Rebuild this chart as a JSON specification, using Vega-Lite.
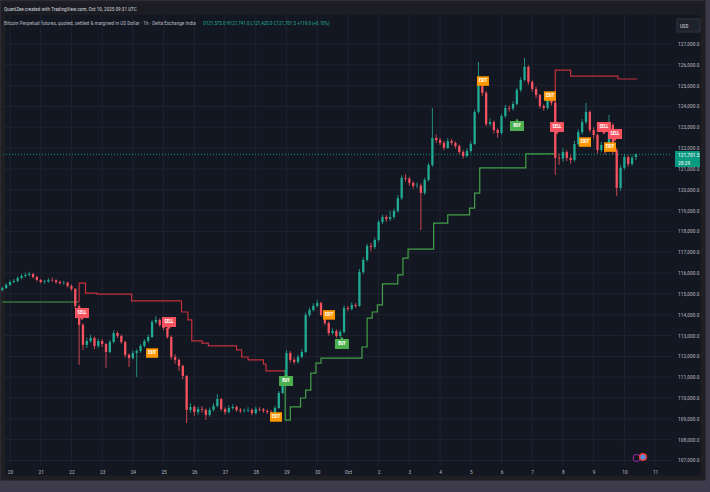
{
"$schema":"https://vega.github.io/schema/vega-lite/v6.json",
"width":700,"height":475,
"autosize":{"type":"none"},
"padding":{"left":3,"top":3,"right":7,"bottom":14},
"background":"#3c3a4b",
"config":{"view":{"fill":"#131722","stroke":"#1f1f23","strokeWidth":5},"font":"Liberation Sans Narrow, Roboto Condensed, Liberation Sans, sans-serif"},
"title":{"text":"QuantZee created with TradingView.com, Oct 10, 2025 09:31 UTC","subtitle":"\u00a0\u00a0\u00a0Bitcoin Perpetual futures, quoted, settled & margined in US Dollar · 1h · Delta Exchange India","anchor":"start","frame":"group","offset":-23,"dx":1,"fontSize":5.2,"fontWeight":"normal","color":"#d1d4dc","subtitleFontSize":5.3,"subtitleColor":"#b2b5be","subtitlePadding":8.5},
"datasets":{
"candles":[
{"t":"2025-09-19 18:00","o":115190,"h":115360,"l":115120,"c":115280},
{"t":"2025-09-19 21:00","o":115280,"h":115520,"l":115230,"c":115430},
{"t":"2025-09-20 00:00","o":115430,"h":115650,"l":115380,"c":115570},
{"t":"2025-09-20 03:00","o":115570,"h":115720,"l":115500,"c":115620},
{"t":"2025-09-20 06:00","o":115620,"h":115850,"l":115560,"c":115760},
{"t":"2025-09-20 09:00","o":115760,"h":115950,"l":115700,"c":115860},
{"t":"2025-09-20 12:00","o":115860,"h":116020,"l":115780,"c":115910},
{"t":"2025-09-20 15:00","o":115910,"h":116060,"l":115840,"c":115960},
{"t":"2025-09-20 18:00","o":115960,"h":116000,"l":115740,"c":115810},
{"t":"2025-09-20 21:00","o":115810,"h":115870,"l":115600,"c":115670},
{"t":"2025-09-21 00:00","o":115670,"h":115720,"l":115500,"c":115570},
{"t":"2025-09-21 03:00","o":115570,"h":115680,"l":115490,"c":115600},
{"t":"2025-09-21 06:00","o":115600,"h":115760,"l":115540,"c":115670},
{"t":"2025-09-21 09:00","o":115670,"h":115780,"l":115580,"c":115650},
{"t":"2025-09-21 12:00","o":115650,"h":115700,"l":115480,"c":115570},
{"t":"2025-09-21 15:00","o":115570,"h":115640,"l":115440,"c":115520},
{"t":"2025-09-21 18:00","o":115520,"h":115620,"l":115430,"c":115540},
{"t":"2025-09-21 21:00","o":115540,"h":115590,"l":115300,"c":115380},
{"t":"2025-09-22 00:00","o":115380,"h":115450,"l":115150,"c":115240},
{"t":"2025-09-22 03:00","o":115240,"h":115280,"l":114300,"c":114420},
{"t":"2025-09-22 06:00","o":114420,"h":114500,"l":111590,"c":113510},
{"t":"2025-09-22 09:00","o":113510,"h":113600,"l":112300,"c":112550},
{"t":"2025-09-22 12:00","o":112550,"h":112900,"l":112400,"c":112740},
{"t":"2025-09-22 15:00","o":112740,"h":113050,"l":112650,"c":112880},
{"t":"2025-09-22 18:00","o":112880,"h":112950,"l":112350,"c":112500},
{"t":"2025-09-22 21:00","o":112500,"h":112850,"l":112400,"c":112740},
{"t":"2025-09-23 00:00","o":112740,"h":112820,"l":112450,"c":112590},
{"t":"2025-09-23 03:00","o":112590,"h":112650,"l":111440,"c":112210},
{"t":"2025-09-23 06:00","o":112210,"h":112780,"l":112150,"c":112690},
{"t":"2025-09-23 09:00","o":112690,"h":113250,"l":112620,"c":113120},
{"t":"2025-09-23 12:00","o":113120,"h":113200,"l":112880,"c":112980},
{"t":"2025-09-23 15:00","o":112980,"h":113050,"l":112600,"c":112690},
{"t":"2025-09-23 18:00","o":112690,"h":112750,"l":111950,"c":112070},
{"t":"2025-09-23 21:00","o":112070,"h":112150,"l":111490,"c":111920},
{"t":"2025-09-24 00:00","o":111920,"h":112280,"l":111850,"c":112160},
{"t":"2025-09-24 03:00","o":112160,"h":112350,"l":111010,"c":112260},
{"t":"2025-09-24 06:00","o":112260,"h":112600,"l":112180,"c":112500},
{"t":"2025-09-24 09:00","o":112500,"h":112830,"l":112420,"c":112740},
{"t":"2025-09-24 12:00","o":112740,"h":113050,"l":112650,"c":112930},
{"t":"2025-09-24 15:00","o":112930,"h":113750,"l":112880,"c":113650},
{"t":"2025-09-24 18:00","o":113650,"h":113940,"l":113560,"c":113750},
{"t":"2025-09-24 21:00","o":113750,"h":113820,"l":113420,"c":113510},
{"t":"2025-09-25 00:00","o":113510,"h":113600,"l":113250,"c":113360},
{"t":"2025-09-25 03:00","o":113360,"h":113420,"l":112850,"c":112930},
{"t":"2025-09-25 06:00","o":112930,"h":113000,"l":111850,"c":111970},
{"t":"2025-09-25 09:00","o":111970,"h":112100,"l":111650,"c":111830},
{"t":"2025-09-25 12:00","o":111830,"h":111900,"l":111300,"c":111540},
{"t":"2025-09-25 15:00","o":111540,"h":111600,"l":110900,"c":111060},
{"t":"2025-09-25 18:00","o":111060,"h":111100,"l":108800,"c":109430},
{"t":"2025-09-25 21:00","o":109430,"h":109750,"l":109300,"c":109570},
{"t":"2025-09-26 00:00","o":109570,"h":109650,"l":109150,"c":109330},
{"t":"2025-09-26 03:00","o":109330,"h":109600,"l":109200,"c":109470},
{"t":"2025-09-26 06:00","o":109470,"h":109620,"l":109300,"c":109430},
{"t":"2025-09-26 09:00","o":109430,"h":109500,"l":108950,"c":109190},
{"t":"2025-09-26 12:00","o":109190,"h":109550,"l":109100,"c":109430},
{"t":"2025-09-26 15:00","o":109430,"h":109750,"l":109350,"c":109620},
{"t":"2025-09-26 18:00","o":109620,"h":110190,"l":109550,"c":109950},
{"t":"2025-09-26 21:00","o":109950,"h":110000,"l":109380,"c":109470},
{"t":"2025-09-27 00:00","o":109470,"h":109550,"l":109200,"c":109330},
{"t":"2025-09-27 03:00","o":109330,"h":109650,"l":109250,"c":109520},
{"t":"2025-09-27 06:00","o":109520,"h":109700,"l":109430,"c":109570},
{"t":"2025-09-27 09:00","o":109570,"h":109640,"l":109330,"c":109430},
{"t":"2025-09-27 12:00","o":109430,"h":109520,"l":109280,"c":109380},
{"t":"2025-09-27 15:00","o":109380,"h":109500,"l":109300,"c":109400},
{"t":"2025-09-27 18:00","o":109400,"h":109560,"l":109320,"c":109430},
{"t":"2025-09-27 21:00","o":109430,"h":109500,"l":109180,"c":109280},
{"t":"2025-09-28 00:00","o":109280,"h":109580,"l":109200,"c":109470},
{"t":"2025-09-28 03:00","o":109470,"h":109560,"l":109360,"c":109450},
{"t":"2025-09-28 06:00","o":109450,"h":109520,"l":109290,"c":109380},
{"t":"2025-09-28 09:00","o":109380,"h":109450,"l":109240,"c":109330},
{"t":"2025-09-28 12:00","o":109330,"h":109420,"l":109200,"c":109300},
{"t":"2025-09-28 15:00","o":109300,"h":109620,"l":109230,"c":109520},
{"t":"2025-09-28 18:00","o":109520,"h":110330,"l":109480,"c":110240},
{"t":"2025-09-28 21:00","o":110240,"h":111050,"l":110180,"c":110960},
{"t":"2025-09-29 00:00","o":110960,"h":112300,"l":110900,"c":112160},
{"t":"2025-09-29 03:00","o":112160,"h":112250,"l":111700,"c":111830},
{"t":"2025-09-29 06:00","o":111830,"h":111950,"l":111620,"c":111730},
{"t":"2025-09-29 09:00","o":111730,"h":112080,"l":111650,"c":111970},
{"t":"2025-09-29 12:00","o":111970,"h":112350,"l":111900,"c":112210},
{"t":"2025-09-29 15:00","o":112210,"h":114100,"l":112150,"c":113990},
{"t":"2025-09-29 18:00","o":113990,"h":114350,"l":113900,"c":114230},
{"t":"2025-09-29 21:00","o":114230,"h":114550,"l":114150,"c":114420},
{"t":"2025-09-30 00:00","o":114420,"h":114710,"l":114350,"c":114560},
{"t":"2025-09-30 03:00","o":114560,"h":114620,"l":113900,"c":113990},
{"t":"2025-09-30 06:00","o":113990,"h":114050,"l":113500,"c":113600},
{"t":"2025-09-30 09:00","o":113600,"h":113680,"l":113000,"c":113120},
{"t":"2025-09-30 12:00","o":113120,"h":113350,"l":113050,"c":113220},
{"t":"2025-09-30 15:00","o":113220,"h":113300,"l":112880,"c":112980},
{"t":"2025-09-30 18:00","o":112980,"h":113280,"l":112900,"c":113170},
{"t":"2025-09-30 21:00","o":113170,"h":114450,"l":113100,"c":114320},
{"t":"2025-10-01 00:00","o":114320,"h":114420,"l":114180,"c":114280},
{"t":"2025-10-01 03:00","o":114280,"h":114600,"l":114200,"c":114470},
{"t":"2025-10-01 06:00","o":114470,"h":114560,"l":114330,"c":114420},
{"t":"2025-10-01 09:00","o":114420,"h":116200,"l":114380,"c":116050},
{"t":"2025-10-01 12:00","o":116050,"h":116750,"l":115950,"c":116630},
{"t":"2025-10-01 15:00","o":116630,"h":117400,"l":116550,"c":117300},
{"t":"2025-10-01 18:00","o":117300,"h":117450,"l":117050,"c":117250},
{"t":"2025-10-01 21:00","o":117250,"h":117700,"l":117150,"c":117590},
{"t":"2025-10-02 00:00","o":117590,"h":118550,"l":117500,"c":118450},
{"t":"2025-10-02 03:00","o":118450,"h":118800,"l":118350,"c":118690},
{"t":"2025-10-02 06:00","o":118690,"h":118780,"l":118450,"c":118600},
{"t":"2025-10-02 09:00","o":118600,"h":119000,"l":118500,"c":118690},
{"t":"2025-10-02 12:00","o":118690,"h":119100,"l":118600,"c":118980},
{"t":"2025-10-02 15:00","o":118980,"h":119750,"l":118900,"c":119600},
{"t":"2025-10-02 18:00","o":119600,"h":120700,"l":119500,"c":120570},
{"t":"2025-10-02 21:00","o":120570,"h":120750,"l":120400,"c":120530},
{"t":"2025-10-03 00:00","o":120530,"h":120620,"l":120200,"c":120330},
{"t":"2025-10-03 03:00","o":120330,"h":120400,"l":120050,"c":120180},
{"t":"2025-10-03 06:00","o":120180,"h":120350,"l":120080,"c":120200},
{"t":"2025-10-03 09:00","o":120200,"h":120300,"l":118070,"c":119850},
{"t":"2025-10-03 12:00","o":119850,"h":120580,"l":119750,"c":120470},
{"t":"2025-10-03 15:00","o":120470,"h":121300,"l":120400,"c":121190},
{"t":"2025-10-03 18:00","o":121190,"h":123930,"l":121100,"c":122490},
{"t":"2025-10-03 21:00","o":122490,"h":122650,"l":122250,"c":122390},
{"t":"2025-10-04 00:00","o":122390,"h":122500,"l":122150,"c":122250},
{"t":"2025-10-04 03:00","o":122250,"h":122350,"l":121900,"c":122010},
{"t":"2025-10-04 06:00","o":122010,"h":122480,"l":121950,"c":122340},
{"t":"2025-10-04 09:00","o":122340,"h":122450,"l":122150,"c":122250},
{"t":"2025-10-04 12:00","o":122250,"h":122320,"l":121980,"c":122100},
{"t":"2025-10-04 15:00","o":122100,"h":122180,"l":121700,"c":121810},
{"t":"2025-10-04 18:00","o":121810,"h":121900,"l":121500,"c":121620},
{"t":"2025-10-04 21:00","o":121620,"h":121980,"l":121550,"c":121860},
{"t":"2025-10-05 00:00","o":121860,"h":122320,"l":121780,"c":122200},
{"t":"2025-10-05 03:00","o":122200,"h":123850,"l":122150,"c":123740},
{"t":"2025-10-05 06:00","o":123740,"h":126140,"l":123650,"c":125270},
{"t":"2025-10-05 09:00","o":125270,"h":125400,"l":124500,"c":124650},
{"t":"2025-10-05 12:00","o":124650,"h":124750,"l":123050,"c":123160},
{"t":"2025-10-05 15:00","o":123160,"h":123420,"l":123050,"c":123250},
{"t":"2025-10-05 18:00","o":123250,"h":123330,"l":122700,"c":122870},
{"t":"2025-10-05 21:00","o":122870,"h":122950,"l":122500,"c":122730},
{"t":"2025-10-06 00:00","o":122730,"h":123650,"l":122650,"c":123540},
{"t":"2025-10-06 03:00","o":123540,"h":124080,"l":123450,"c":123930},
{"t":"2025-10-06 06:00","o":123930,"h":124050,"l":123750,"c":123900},
{"t":"2025-10-06 09:00","o":123900,"h":124250,"l":123800,"c":124120},
{"t":"2025-10-06 12:00","o":124120,"h":124900,"l":124050,"c":124790},
{"t":"2025-10-06 15:00","o":124790,"h":125400,"l":124700,"c":125270},
{"t":"2025-10-06 18:00","o":125270,"h":126330,"l":125200,"c":125900},
{"t":"2025-10-06 21:00","o":125900,"h":125980,"l":125050,"c":125180},
{"t":"2025-10-07 00:00","o":125180,"h":125250,"l":124700,"c":124840},
{"t":"2025-10-07 03:00","o":124840,"h":124950,"l":124400,"c":124550},
{"t":"2025-10-07 06:00","o":124550,"h":124600,"l":123900,"c":124020},
{"t":"2025-10-07 09:00","o":124020,"h":124100,"l":123800,"c":123930},
{"t":"2025-10-07 12:00","o":123930,"h":124620,"l":123850,"c":124500},
{"t":"2025-10-07 15:00","o":124500,"h":124580,"l":124050,"c":124170},
{"t":"2025-10-07 18:00","o":124170,"h":124250,"l":120710,"c":121530},
{"t":"2025-10-07 21:00","o":121530,"h":121750,"l":121200,"c":121500},
{"t":"2025-10-08 00:00","o":121500,"h":122000,"l":121350,"c":121810},
{"t":"2025-10-08 03:00","o":121810,"h":121900,"l":121380,"c":121530},
{"t":"2025-10-08 06:00","o":121530,"h":121650,"l":121250,"c":121430},
{"t":"2025-10-08 09:00","o":121430,"h":122350,"l":121350,"c":122200},
{"t":"2025-10-08 12:00","o":122200,"h":122900,"l":122100,"c":122770},
{"t":"2025-10-08 15:00","o":122770,"h":123400,"l":122650,"c":123250},
{"t":"2025-10-08 18:00","o":123250,"h":124170,"l":123150,"c":123740},
{"t":"2025-10-08 21:00","o":123740,"h":123800,"l":122750,"c":122870},
{"t":"2025-10-09 00:00","o":122870,"h":123000,"l":122450,"c":122630},
{"t":"2025-10-09 03:00","o":122630,"h":122700,"l":121750,"c":121910},
{"t":"2025-10-09 06:00","o":121910,"h":122300,"l":121800,"c":122150},
{"t":"2025-10-09 09:00","o":122150,"h":122250,"l":121700,"c":121910},
{"t":"2025-10-09 12:00","o":121910,"h":123590,"l":121850,"c":123110},
{"t":"2025-10-09 15:00","o":123110,"h":123200,"l":121700,"c":121910},
{"t":"2025-10-09 18:00","o":121910,"h":122000,"l":119700,"c":120090},
{"t":"2025-10-09 21:00","o":120090,"h":121200,"l":119950,"c":121050},
{"t":"2025-10-10 00:00","o":121050,"h":121700,"l":120950,"c":121570},
{"t":"2025-10-10 03:00","o":121570,"h":121650,"l":121100,"c":121240},
{"t":"2025-10-10 06:00","o":121240,"h":121650,"l":121150,"c":121530},
{"t":"2025-10-10 09:00","o":121575,"h":121741,"l":121420,"c":121701.5}
],
"stops":[
{"t":"2025-09-19 18:00","v":114610,"s":"g1"},{"t":"2025-09-22 05:00","v":114610,"s":"g1"},
{"t":"2025-09-22 05:00","v":114610,"s":"r1"},{"t":"2025-09-22 06:00","v":115520,"s":"r1"},{"t":"2025-09-22 11:00","v":115040,"s":"r1"},{"t":"2025-09-22 20:00","v":114990,"s":"r1"},{"t":"2025-09-23 23:00","v":114660,"s":"r1"},{"t":"2025-09-25 14:00","v":114130,"s":"r1"},{"t":"2025-09-25 19:00","v":113750,"s":"r1"},{"t":"2025-09-25 22:00","v":112740,"s":"r1"},{"t":"2025-09-26 06:00","v":112640,"s":"r1"},{"t":"2025-09-26 11:00","v":112500,"s":"r1"},{"t":"2025-09-27 09:00","v":112310,"s":"r1"},{"t":"2025-09-27 13:00","v":111970,"s":"r1"},{"t":"2025-09-27 18:00","v":111830,"s":"r1"},{"t":"2025-09-28 06:00","v":111630,"s":"r1"},{"t":"2025-09-28 08:00","v":111300,"s":"r1"},{"t":"2025-09-28 23:00","v":111300,"s":"r1"},
{"t":"2025-09-28 22:00","v":111300,"s":"g2"},{"t":"2025-09-28 23:00","v":108940,"s":"g2"},{"t":"2025-09-29 03:00","v":109570,"s":"g2"},{"t":"2025-09-29 11:00","v":110000,"s":"g2"},{"t":"2025-09-29 15:00","v":110380,"s":"g2"},{"t":"2025-09-29 19:00","v":111200,"s":"g2"},{"t":"2025-09-29 23:00","v":111680,"s":"g2"},{"t":"2025-09-30 03:00","v":111920,"s":"g2"},{"t":"2025-10-01 11:00","v":112450,"s":"g2"},{"t":"2025-10-01 15:00","v":113840,"s":"g2"},{"t":"2025-10-01 19:00","v":114130,"s":"g2"},{"t":"2025-10-01 23:00","v":114470,"s":"g2"},{"t":"2025-10-02 03:00","v":115480,"s":"g2"},{"t":"2025-10-02 15:00","v":115910,"s":"g2"},{"t":"2025-10-02 19:00","v":116720,"s":"g2"},{"t":"2025-10-02 23:00","v":117150,"s":"g2"},{"t":"2025-10-03 19:00","v":118400,"s":"g2"},{"t":"2025-10-04 06:00","v":118790,"s":"g2"},{"t":"2025-10-04 23:00","v":119120,"s":"g2"},{"t":"2025-10-05 03:00","v":119840,"s":"g2"},{"t":"2025-10-05 07:00","v":121050,"s":"g2"},{"t":"2025-10-06 19:00","v":121720,"s":"g2"},{"t":"2025-10-07 18:00","v":121720,"s":"g2"},
{"t":"2025-10-07 17:00","v":123250,"s":"r2"},{"t":"2025-10-07 18:00","v":125750,"s":"r2"},{"t":"2025-10-08 06:00","v":125460,"s":"r2"},{"t":"2025-10-09 19:00","v":125320,"s":"r2"},{"t":"2025-10-10 10:00","v":125320,"s":"r2"}
],
"signals":[
{"t":"2025-09-22 08:15","p":114080,"k":"SELL"},
{"t":"2025-09-25 04:15","p":113650,"k":"SELL"},
{"t":"2025-09-24 15:00","p":112160,"k":"EXIT"},
{"t":"2025-09-28 15:50","p":109090,"k":"EXIT"},
{"t":"2025-09-28 23:40","p":110820,"k":"BUY"},
{"t":"2025-09-30 09:15","p":113990,"k":"EXIT"},
{"t":"2025-09-30 19:20","p":112590,"k":"BUY"},
{"t":"2025-10-05 09:30","p":125220,"k":"EXIT"},
{"t":"2025-10-06 12:05","p":123060,"k":"BUY"},
{"t":"2025-10-07 13:50","p":124500,"k":"EXIT"},
{"t":"2025-10-07 19:20","p":123010,"k":"SELL"},
{"t":"2025-10-08 17:15","p":122290,"k":"EXIT"},
{"t":"2025-10-09 08:00","p":123010,"k":"SELL"},
{"t":"2025-10-09 12:45","p":122050,"k":"EXIT"},
{"t":"2025-10-09 16:40","p":122680,"k":"SELL"}
],
"ylev":[{"v":107000},{"v":108000},{"v":109000},{"v":110000},{"v":111000},{"v":112000},{"v":113000},{"v":114000},{"v":115000},{"v":116000},{"v":117000},{"v":118000},{"v":119000},{"v":120000},{"v":121000},{"v":122000},{"v":123000},{"v":124000},{"v":125000},{"v":126000},{"v":127000}],
"days":[{"d":"2025-09-20 00:00"},{"d":"2025-09-21 00:00"},{"d":"2025-09-22 00:00"},{"d":"2025-09-23 00:00"},{"d":"2025-09-24 00:00"},{"d":"2025-09-25 00:00"},{"d":"2025-09-26 00:00"},{"d":"2025-09-27 00:00"},{"d":"2025-09-28 00:00"},{"d":"2025-09-29 00:00"},{"d":"2025-09-30 00:00"},{"d":"2025-10-01 00:00"},{"d":"2025-10-02 00:00"},{"d":"2025-10-03 00:00"},{"d":"2025-10-04 00:00"},{"d":"2025-10-05 00:00"},{"d":"2025-10-06 00:00"},{"d":"2025-10-07 00:00"},{"d":"2025-10-08 00:00"},{"d":"2025-10-09 00:00"},{"d":"2025-10-10 00:00"},{"d":"2025-10-11 00:00"}],
"one":[{}]
},
"layer":[
{"data":{"name":"one"},"mark":{"type":"rect","fill":"#1c1d23"},
 "encoding":{"x":{"datum":{"year":2025,"month":9,"date":19,"hours":18,"minutes":32},"type":"temporal"},"x2":{"datum":{"year":2025,"month":10,"date":12,"hours":13,"minutes":25}},"y":{"datum":128969,"type":"quantitative","axis":null},"y2":{"datum":128393}}},
{"data":{"name":"ylev"},"mark":{"type":"rule","color":"#1f2330","strokeWidth":1},
 "encoding":{"y":{"field":"v","type":"quantitative","axis":null},"x":{"datum":{"year":2025,"month":9,"date":19,"hours":18,"minutes":32},"type":"temporal"},"x2":{"datum":{"year":2025,"month":10,"date":11,"hours":13,"minutes":12}}}},
{"data":{"name":"days"},"mark":{"type":"rule","color":"#1f2330","strokeWidth":1},
 "encoding":{"x":{"field":"d","type":"temporal"},"y":{"datum":128393,"type":"quantitative","axis":null},"y2":{"datum":106784}}},
{"data":{"name":"one"},"mark":{"type":"rule","color":"#089981","strokeWidth":1,"strokeDash":[1,2]},
 "encoding":{"y":{"datum":121701.5,"type":"quantitative","axis":null},"x":{"datum":{"year":2025,"month":9,"date":19,"hours":18,"minutes":32},"type":"temporal"},"x2":{"datum":{"year":2025,"month":10,"date":11,"hours":13,"minutes":12}}}},
{"data":{"name":"stops"},"mark":{"type":"line","interpolate":"step-after","strokeWidth":1.2},
 "encoding":{"x":{"field":"t","type":"temporal"},"y":{"field":"v","type":"quantitative","axis":null},"color":{"field":"s","type":"nominal","scale":{"domain":["g1","r1","g2","r2"],"range":["#43a047","#c2313b","#43a047","#c2313b"]},"legend":null}}},
{"data":{"name":"candles"},"mark":{"type":"rule","strokeWidth":0.8},
 "encoding":{
  "x":{"field":"t","type":"temporal","scale":{"domain":[{"year":2025,"month":9,"date":19,"hours":18,"minutes":32},{"year":2025,"month":10,"date":12,"hours":13,"minutes":25}],"padding":0,"nice":false},
   "axis":{"title":null,"orient":"bottom","offset":-11,"domain":false,"ticks":false,"grid":false,"labelPadding":2,"labelFontSize":5.5,"labelColor":"#b2b5be","labelBaseline":"top","labelFlush":false,"labelOverlap":false,"tickCount":{"interval":"day","step":1},"labelExpr":"(month(datum.value)==9 && date(datum.value)==12) ? '' : (date(datum.value)==1 ? timeFormat(datum.value,'%b') : timeFormat(datum.value,'%-d'))"}},
  "y":{"field":"l","type":"quantitative","scale":{"domain":[106159,128969],"padding":0,"nice":false,"zero":false},"axis":null},
  "y2":{"field":"h"},
  "color":{"condition":{"test":"datum.c >= datum.o","value":"#22ab94"},"value":"#f7525f"}}},
{"data":{"name":"candles"},"mark":{"type":"bar","width":2.3},
 "encoding":{"x":{"field":"t","type":"temporal"},"y":{"field":"o","type":"quantitative","axis":null},"y2":{"field":"c"},
  "color":{"condition":{"test":"datum.c >= datum.o","value":"#22ab94"},"value":"#f7525f"}}},
{"data":{"name":"signals"},"mark":{"type":"point","filled":true,"opacity":1,"strokeWidth":0},
 "encoding":{"x":{"field":"t","type":"temporal"},"y":{"field":"p","type":"quantitative","axis":null},
  "shape":{"field":"k","type":"nominal","scale":{"domain":["SELL","BUY","EXIT"],"range":["M-1.4,-1H1.4V1H0.3L0,1.5L-0.3,1H-1.4Z","M-1.4,-1H-0.3L0,-1.5L0.3,-1H1.4V1H-1.4Z","M-1.2,-0.95H1.2V0.95H-1.2Z"]},"legend":null},
  "fill":{"field":"k","type":"nominal","scale":{"domain":["SELL","BUY","EXIT"],"range":["#f7525f","#4caf50","#ff9800"]},"legend":null},
  "size":{"value":100}}},
{"data":{"name":"signals"},"mark":{"type":"text","fontSize":4.5,"fontWeight":"bold","color":"#ffffff","baseline":"middle","align":"center"},
 "encoding":{"x":{"field":"t","type":"temporal"},"y":{"field":"p","type":"quantitative","axis":null},"text":{"field":"k"}}},
{"data":{"name":"ylev"},"mark":{"type":"text","fontSize":5.5,"color":"#b2b5be","align":"left","baseline":"middle"},
 "encoding":{"x":{"datum":{"year":2025,"month":10,"date":11,"hours":17,"minutes":54},"type":"temporal"},"y":{"field":"v","type":"quantitative","axis":null},"text":{"field":"v","type":"quantitative","format":",.1f"}}},
{"data":{"name":"one"},"mark":{"type":"point","filled":true,"opacity":1,"fill":"#089981","strokeWidth":0,"shape":"M-1.56,-1H1.56V1H-1.56Z","size":256},
 "encoding":{"x":{"datum":{"year":2025,"month":10,"date":12,"hours":1,"minutes":18},"type":"temporal"},"y":{"datum":121478,"type":"quantitative","axis":null}}},
{"data":{"name":"one"},"mark":{"type":"text","fontSize":5.5,"color":"#ffffff","align":"left","baseline":"middle","text":"121,701.5"},
 "encoding":{"x":{"datum":{"year":2025,"month":10,"date":11,"hours":17,"minutes":54},"type":"temporal"},"y":{"datum":121670,"type":"quantitative","axis":null}}},
{"data":{"name":"one"},"mark":{"type":"text","fontSize":5.5,"color":"#ffffff","align":"left","baseline":"middle","text":"28:29"},
 "encoding":{"x":{"datum":{"year":2025,"month":10,"date":11,"hours":17,"minutes":54},"type":"temporal"},"y":{"datum":121286,"type":"quantitative","axis":null}}},
{"data":{"name":"one"},"mark":{"type":"point","filled":true,"opacity":1,"fill":"#1e222d","stroke":"#434651","strokeWidth":0.6,"shape":"M-1.77,-1H1.77V1H-1.77Z","size":169},
 "encoding":{"x":{"datum":{"year":2025,"month":10,"date":12,"hours":2,"minutes":6},"type":"temporal"},"y":{"datum":127888,"type":"quantitative","axis":null}}},
{"data":{"name":"one"},"mark":{"type":"text","fontSize":5,"color":"#d1d4dc","align":"left","baseline":"middle","text":"USD"},
 "encoding":{"x":{"datum":{"year":2025,"month":10,"date":11,"hours":19,"minutes":26},"type":"temporal"},"y":{"datum":127888,"type":"quantitative","axis":null}}},
{"data":{"name":"one"},"mark":{"type":"point","filled":false,"stroke":"#9c27b0","strokeWidth":1,"size":50,"opacity":1},
 "encoding":{"x":{"datum":{"year":2025,"month":10,"date":10,"hours":9,"minutes":30},"type":"temporal"},"y":{"datum":107119,"type":"quantitative","axis":null}}},
{"data":{"name":"one"},"mark":{"type":"point","filled":true,"fill":"#5b8de0","stroke":"#e53935","strokeWidth":1.5,"size":45,"opacity":1},
 "encoding":{"x":{"datum":{"year":2025,"month":10,"date":10,"hours":14,"minutes":30},"type":"temporal"},"y":{"datum":107167,"type":"quantitative","axis":null}}},
{"data":{"name":"one"},"mark":{"type":"text","fontSize":5,"color":"#22ab94","align":"left","baseline":"middle","text":"O121,575.0 H121,741.0 L121,420.0 C121,701.5 +119.0 (+0.10%)"},
 "encoding":{"x":{"datum":{"year":2025,"month":9,"date":26,"hours":6,"minutes":47},"type":"temporal"},"y":{"datum":128008,"type":"quantitative","axis":null}}}
]
}
